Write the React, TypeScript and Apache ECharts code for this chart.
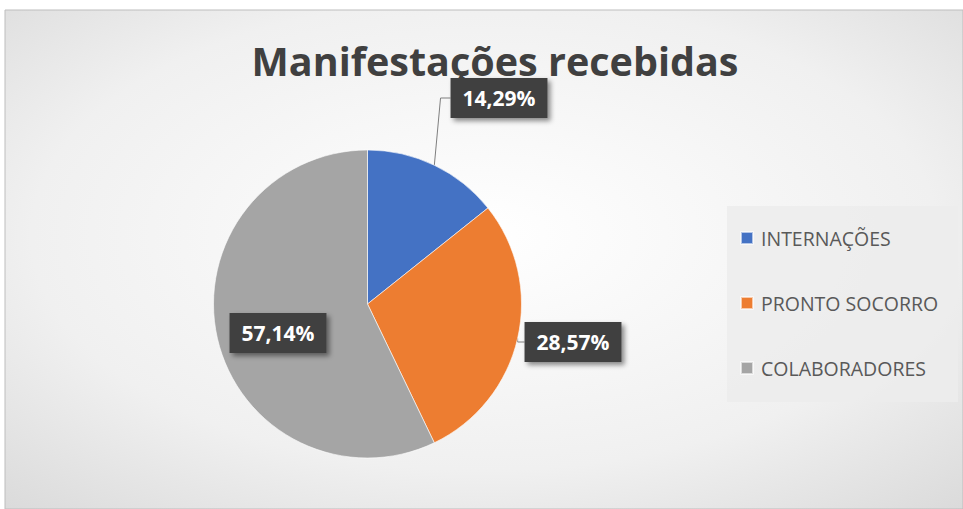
import React, { useEffect, useRef } from "react";
import * as echarts from "echarts";

const categories = ["INTERNAÇÕES", "PRONTO SOCORRO", "COLABORADORES"];
const shares = [14.29, 28.57, 57.14];
const colors = ["#4472C4", "#ED7D31", "#A5A5A5"];
const titleText = "Manifestações recebidas";

export default function App() {
  const ref = useRef<HTMLDivElement>(null);
  useEffect(() => {
    document.body.style.margin = "0";
    const chart = echarts.init(ref.current!, null, { renderer: "svg" });
    const labelBox = {
      show: true,
      formatter: (p: any) => p.value.toFixed(2).replace(".", ",") + "%",
      color: "#ffffff",
      fontFamily: "Open Sans",
      fontWeight: "bold",
      fontSize: 21,
      lineHeight: 22,
      backgroundColor: "#404040",
      padding: [9, 12, 9, 12],
      shadowColor: "rgba(0,0,0,0.45)",
      shadowBlur: 5,
      shadowOffsetX: 3,
      shadowOffsetY: 3,
    };
    const labelPos: Record<string, [number, number]> = {
      "INTERNAÇÕES": [499, 98],
      "PRONTO SOCORRO": [573, 342],
      "COLABORADORES": [278, 333],
    };
    chart.setOption({
      animation: false,
      graphic: [
        {
          type: "rect",
          shape: { x: 5, y: 10, width: 958, height: 499 },
          style: {
            fill: new echarts.graphic.RadialGradient(0.5, 0.45, 1.05, [
              { offset: 0, color: "#ffffff" },
              { offset: 0.45, color: "#f0f0f0" },
              { offset: 1, color: "#c2c2c2" },
            ]),
            stroke: "#bdbdbd",
            lineWidth: 1,
          },
          z: -10,
          silent: true,
        },
        {
          type: "rect",
          shape: { x: 727, y: 206, width: 231, height: 196 },
          style: { fill: "rgba(236,236,236,0.85)" },
          z: -5,
          silent: true,
        },
      ],
      title: {
        text: titleText,
        left: 490,
        textAlign: "center",
        top: 36,
        textStyle: {
          fontFamily: "Open Sans",
          fontWeight: "bold",
          fontSize: 39.5,
          color: "#404040",
        },
      },
      legend: {
        orient: "vertical",
        left: 740,
        top: 228,
        padding: 0,
        itemWidth: 12,
        itemHeight: 12,
        itemGap: 45,
        icon: "rect",
        data: categories,
        textStyle: {
          fontFamily: "Open Sans",
          fontSize: 19.5,
          lineHeight: 20,
          color: "#595959",
          padding: [0, 0, 0, 3],
        },
      },
      series: [
        {
          type: "pie",
          center: [367.5, 304],
          radius: 154,
          startAngle: 90,
          clockwise: true,
          itemStyle: { borderColor: "rgba(255,255,255,0.6)", borderWidth: 1 },
          label: { ...labelBox, position: "outside" },
          labelLine: {
            show: true,
            length: 10,
            length2: 10,
            lineStyle: { color: "#7f7f7f", width: 1 },
          },
          labelLayout: (p: any) => {
            const pos = labelPos[categories[p.dataIndex]];
            return { x: pos[0], y: pos[1], align: "center", verticalAlign: "middle" };
          },
          data: categories.map((c, i) => ({
            name: c,
            value: shares[i],
            itemStyle: { color: colors[i] },
            ...(i === 2 ? { label: { position: "inside" }, labelLine: { show: false } } : {}),
          })),
        },
      ],
    });
    return () => chart.dispose();
  }, []);
  return <div ref={ref} style={{ width: 963, height: 509, background: "#ffffff" }} />;
}
